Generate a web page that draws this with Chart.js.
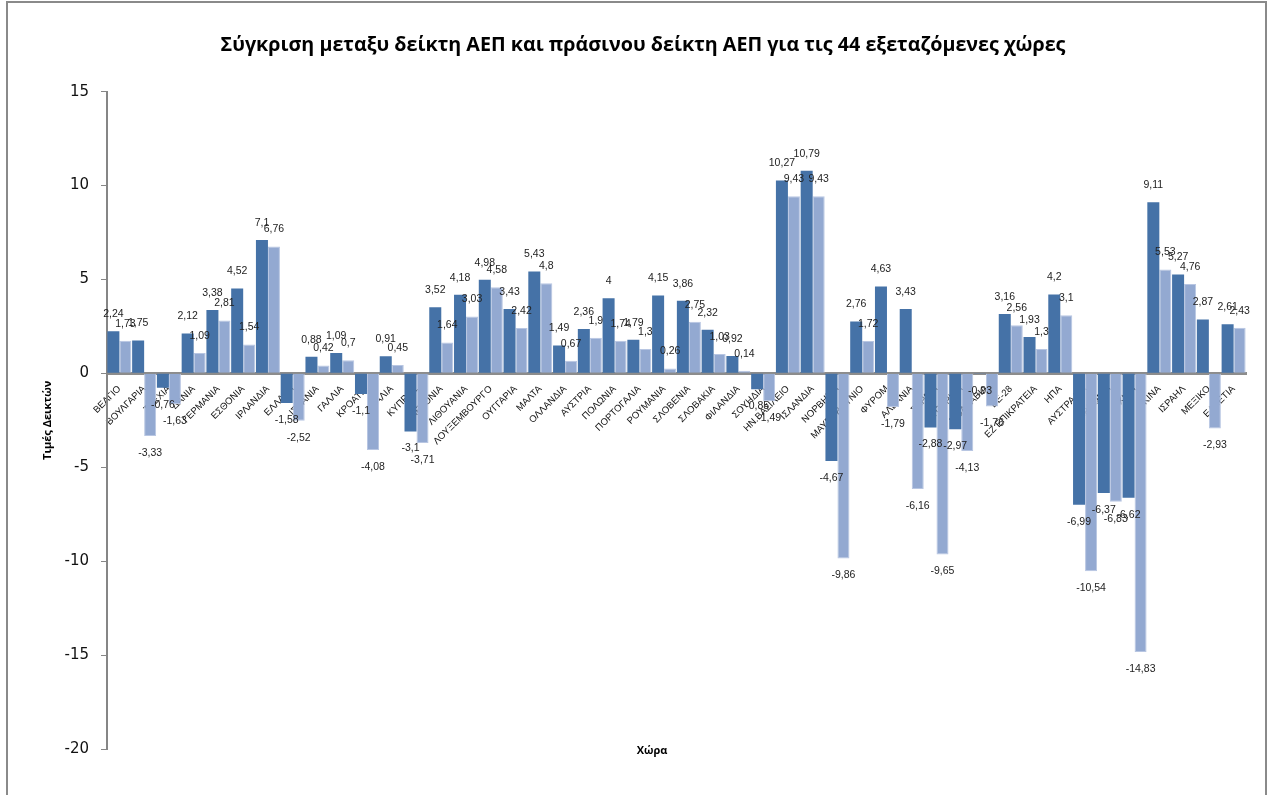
<!DOCTYPE html>
<html>
<head>
<meta charset="utf-8">
<script src="https://cdn.jsdelivr.net/npm/chart.js@4"></script>
<style>
  body { margin: 0; background: #fff; }
  #wrap { position: relative; width: 1269px; height: 795px; overflow: hidden; }
  #frame { position: absolute; left: 6px; top: 1px; width: 1257px; height: 820px; border: 2px solid #8a8a8a; pointer-events: none; }
</style>
</head>
<body>
<div id="wrap">
  <canvas id="c" width="1269" height="795"></canvas>
  <div id="frame"></div>
</div>
<script>
const countries = ['ΒΕΛΓΙΟ','ΒΟΥΛΓΑΡΙΑ','ΤΣΕΧΙΑ','ΔΑΝΙΑ','ΓΕΡΜΑΝΙΑ','ΕΣΘΟΝΙΑ','ΙΡΛΑΝΔΙΑ','ΕΛΛΑΔΑ','ΙΣΠΑΝΙΑ','ΓΑΛΛΙΑ',
  'ΚΡΟΑΤΙΑ','ΙΤΑΛΙΑ','ΚΥΠΡΟΣ','ΛΕΤΟΝΙΑ','ΛΙΘΟΥΑΝΙΑ','ΛΟΥΞΕΜΒΟΥΡΓΟ','ΟΥΓΓΑΡΙΑ','ΜΑΛΤΑ','ΟΛΛΑΝΔΙΑ','ΑΥΣΤΡΙΑ',
  'ΠΟΛΩΝΙΑ','ΠΟΡΤΟΓΑΛΙΑ','ΡΟΥΜΑΝΙΑ','ΣΛΟΒΕΝΙΑ','ΣΛΟΒΑΚΙΑ','ΦΙΛΑΝΔΙΑ','ΣΟΥΗΔΙΑ','ΗΝ.ΒΑΣΙΛΕΙΟ','ΙΣΛΑΝΔΙΑ','ΝΟΡΒΗΓΙΑ',
  'ΜΑΥΡΟΒΟΥΝΙΟ','ΦΥΡΟΜ','ΑΛΒΑΝΙΑ','ΣΕΡΒΙΑ','ΤΟΥΡΚΙΑ','ΜΟΛΔΑΒΙΑ','ΕΕ-28','ΕΖ ΕΠΙΚΡΑΤΕΙΑ','ΗΠΑ','ΑΥΣΤΡΑΛΙΑ',
  'ΙΑΠΩΝΙΑ','ΧΙΛΗ','ΚΙΝΑ','ΙΣΡΑΗΛ','ΜΕΞΙΚΟ','ΕΛΒΕΤΙΑ'];

// δείκτης ΑΕΠ
const gdpIndex = [2.24,1.75,-0.76,2.12,3.38,4.52,7.1,-1.58,0.88,1.09,
  -1.1,0.91,-3.1,3.52,4.18,4.98,3.43,5.43,1.49,2.36,
  4,1.79,4.15,3.86,2.32,0.92,-0.85,10.27,10.79,-4.67,
  2.76,4.63,3.43,-2.88,-2.97,-0.03,3.16,1.93,4.2,-6.99,
  -6.37,-6.62,9.11,5.27,2.87,2.61];

// πράσινος δείκτης ΑΕΠ
const greenGdpIndex = [1.73,-3.33,-1.63,1.09,2.81,1.54,6.76,-2.52,0.42,0.7,
  -4.08,0.45,-3.71,1.64,3.03,4.58,2.42,4.8,0.67,1.9,
  1.74,1.3,0.26,2.75,1.03,0.14,-1.49,9.43,9.43,-9.86,
  1.72,-1.79,-6.16,-9.65,-4.13,-1.76,2.56,1.3,3.1,-10.54,
  -6.83,-14.83,5.53,4.76,-2.93,2.43];

const yTicks = [15, 10, 5, 0, -5, -10, -15, -20];

// ετικέτες τιμών πάνω/κάτω από τις μπάρες
const valueLabels = {
  id: 'valueLabels',
  afterDatasetsDraw(chart) {
    const ctx = chart.ctx;
    ctx.save();
    ctx.font = '10.5px "Liberation Sans", Arial, sans-serif';
    ctx.fillStyle = '#222';
    ctx.textAlign = 'center';
    ctx.textBaseline = 'middle';
    chart.data.datasets.forEach((ds, i) => {
      chart.getDatasetMeta(i).data.forEach((bar, j) => {
        const v = ds.data[j];
        const y = v >= 0 ? bar.y - 17 : bar.y + 17;
        ctx.fillText(String(v).replace('.', ','), bar.x, y);
      });
    });
    ctx.restore();
  }
};

// τίτλος του άξονα x (κάτω, δίπλα στο -20)
const xTitle = {
  id: 'xTitle',
  afterDraw(chart) {
    const ctx = chart.ctx;
    ctx.save();
    ctx.font = 'bold 11px "Open Sans", sans-serif';
    ctx.fillStyle = '#000';
    ctx.textAlign = 'center';
    ctx.textBaseline = 'middle';
    ctx.fillText('Χώρα', 652, 751);
    ctx.restore();
  }
};

new Chart(document.getElementById('c'), {
  type: 'bar',
  data: {
    labels: countries,
    datasets: [
      { label: 'Δείκτης ΑΕΠ', data: gdpIndex, backgroundColor: '#4572A7',
        categoryPercentage: 0.97, barPercentage: 1.0 },
      { label: 'Πράσινος δείκτης ΑΕΠ', data: greenGdpIndex, backgroundColor: '#93A9D1',
        borderColor: '#B8C6E2', borderWidth: 1,
        categoryPercentage: 0.97, barPercentage: 1.0 }
    ]
  },
  options: {
    responsive: false,
    animation: false,
    devicePixelRatio: 1,
    layout: { padding: { left: 40, right: 23, top: 0, bottom: 46 } },
    plugins: {
      legend: { display: false },
      tooltip: { enabled: false },
      title: {
        display: true,
        text: 'Σύγκριση μεταξυ δείκτη ΑΕΠ και πράσινου δείκτη ΑΕΠ για τις 44 εξεταζόμενες χώρες',
        color: '#000',
        font: { family: '"Open Sans", sans-serif', size: 19.7, weight: 'bold' },
        padding: { top: 34, bottom: 34 }
      }
    },
    scales: {
      x: {
        position: { y: 0 },
        z: 1,
        grid: { display: false },
        border: { display: true, color: '#8c8c8c', width: 3 },
        ticks: {
          autoSkip: false,
          minRotation: 45,
          maxRotation: 45,
          padding: 2,
          color: '#111',
          font: { family: '"Liberation Sans", Arial, sans-serif', size: 9.5 }
        }
      },
      y: {
        min: -20,
        max: 15,
        afterFit(scale) { scale.width = 67; },
        afterBuildTicks(scale) { scale.ticks = yTicks.map(v => ({ value: v })); },
        grid: { drawOnChartArea: false, drawTicks: true, tickLength: 6, color: '#868686' },
        border: { display: true, color: '#868686', width: 2 },
        ticks: {
          padding: 12,
          color: '#111',
          font: { family: '"DejaVu Sans", sans-serif', size: 15 }
        },
        title: {
          display: true,
          text: 'Τιμές Δεικτών',
          color: '#000',
          font: { family: '"Open Sans", sans-serif', size: 11, weight: 'bold' },
          padding: { top: 1.4, bottom: 0 }
        }
      }
    }
  },
  plugins: [valueLabels, xTitle]
});
</script>
</body>
</html>
